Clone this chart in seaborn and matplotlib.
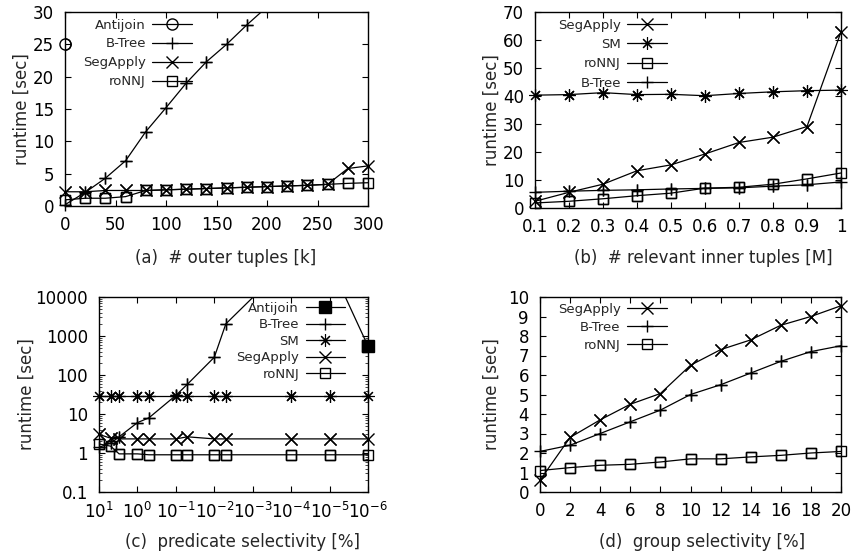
import numpy as np
import matplotlib
matplotlib.use("Agg")
import matplotlib.pyplot as plt
import matplotlib.ticker as mticker
import seaborn as sns

# (a) # outer tuples [k]
a_x = [0, 20, 40, 60, 80, 100, 120, 140, 160, 180, 200, 220, 240, 260, 280, 300]
a_antijoin_x = [0, 20]
a_antijoin = [25.0, 310.0]
a_btree_x = [0, 20, 40, 60, 80, 100, 120, 140, 160, 180, 200]
a_btree = [0.2, 2.1, 4.3, 7.0, 11.5, 15.2, 19.0, 22.3, 25.0, 28.0, 30.8]
a_segapply = [2.2, 2.2, 2.4, 2.4, 2.4, 2.5, 2.6, 2.7, 2.8, 2.9, 3.0, 3.1, 3.2, 3.35, 5.8, 6.2]
a_ronnj = [0.95, 1.2, 1.2, 1.45, 2.4, 2.5, 2.6, 2.7, 2.8, 2.9, 3.0, 3.1, 3.2, 3.35, 3.5, 3.6]

# (b) # relevant inner tuples [M]
b_x = [0.1, 0.2, 0.3, 0.4, 0.5, 0.6, 0.7, 0.8, 0.9, 1.0]
b_segapply = [2.4, 5.6, 8.5, 13.3, 15.4, 19.3, 23.4, 25.3, 29.1, 62.9]
b_sm = [40.3, 40.5, 41.2, 40.5, 40.6, 40.1, 40.9, 41.5, 41.9, 42.1]
b_ronnj = [1.8, 2.4, 3.3, 4.4, 5.3, 7.1, 7.4, 8.5, 10.4, 12.5]
b_btree = [5.6, 6.0, 6.3, 6.5, 6.8, 7.0, 7.2, 7.8, 8.3, 9.3]

# (c) predicate selectivity [%]
c_x = [10, 5, 3, 1, 0.5, 0.1, 0.05, 0.01, 0.005, 1e-4, 1e-5, 1e-6]
c_antijoin_x = [1e-5, 1e-6]
c_antijoin = [75000, 550]
c_btree_x = [10, 5, 3, 1, 0.5, 0.1, 0.05, 0.01, 0.005, 1e-4]
c_btree = [1.4, 1.8, 2.6, 6.0, 8.0, 30, 58, 285, 2050, 90000]
c_sm = [29, 29, 29, 29, 29, 29, 29, 29, 29, 29, 29, 29]
c_segapply = [3.0, 2.4, 2.3, 2.3, 2.3, 2.3, 2.6, 2.3, 2.3, 2.3, 2.3, 2.3]
c_ronnj = [1.7, 1.5, 0.95, 0.95, 0.9, 0.9, 0.9, 0.9, 0.9, 0.9, 0.9, 0.9]
c_ticks = [10, 1, 0.1, 0.01, 1e-3, 1e-4, 1e-5, 1e-6]
c_ticklabels = ["$10^{1}$", "$10^{0}$", "$10^{-1}$", "$10^{-2}$", "$10^{-3}$",
                "$10^{-4}$", "$10^{-5}$", "$10^{-6}$"]

# (d) group selectivity [%]
d_x = [0, 2, 4, 6, 8, 10, 12, 14, 16, 18, 20]
d_segapply = [0.6, 2.8, 3.7, 4.5, 5.05, 6.5, 7.3, 7.8, 8.55, 9.0, 9.55]
d_btree = [2.08, 2.4, 3.0, 3.6, 4.2, 5.0, 5.5, 6.1, 6.7, 7.2, 7.5]
d_ronnj = [1.1, 1.25, 1.37, 1.42, 1.54, 1.7, 1.7, 1.8, 1.88, 2.0, 2.08]

sns.set_style("ticks")
plt.rcParams["font.family"] = ["DejaVu Sans"]
plt.rcParams["mathtext.fontset"] = "dejavusans"
plt.rcParams["mathtext.default"] = "regular"

W, H = 857, 556
MARK = {
    "x": dict(marker="x", ms=8, mew=1),
    "+": dict(marker="+", ms=9, mew=1),
    "*": dict(marker=(8, 2, 0), ms=9, mew=0.8),
    "s": dict(marker="s", ms=7, mfc="none", mew=1),
    "o": dict(marker="o", ms=8, mfc="none", mew=1),
    "S": dict(marker="s", ms=8, mfc="k", mew=1),
}


def box(l, t, r, b):
    return [l / W, 1 - b / H, (r - l) / W, (b - t) / H]


def draw(ax, x, y, label, m, xlim, ylim):
    kw = MARK[m]
    sns.lineplot(x=x, y=y, ax=ax, color="k", lw=0.9, mec="k", label=label, **kw)
    # redraw in-range markers unclipped so the ones on the border show whole
    x, y = np.asarray(x, float), np.asarray(y, float)
    lo, hi = min(xlim), max(xlim)
    ok = (y >= ylim[0]) & (y <= ylim[1]) & (x >= lo) & (x <= hi)
    sns.lineplot(x=x[ok], y=y[ok], ax=ax, color="k", linestyle="none", mec="k",
                 clip_on=False, legend=False, **kw)


def style(ax, xlim, ylim, caption, cap_xy, ylab_x, leg_anchor, leg_loc, spacing):
    ax.set_xlim(*xlim)
    ax.set_ylim(*ylim)
    for s in ax.spines.values():
        s.set_linewidth(1.0)
        s.set_color("k")
        s.set_visible(True)
    ax.tick_params(direction="in", top=True, right=True, length=4, width=0.8,
                   labelsize=12, colors="k")
    ax.tick_params(axis="x", pad=7)
    ax.tick_params(axis="y", pad=8)
    ax.tick_params(which="minor", direction="in", length=2, width=0.6,
                   top=True, right=True)
    ax.set_xlabel(caption, fontsize=12)
    ax.xaxis.set_label_coords(*cap_xy)
    ax.set_ylabel("runtime [sec]", fontsize=12)
    ax.yaxis.set_label_coords(ylab_x, 0.5)
    h, l = ax.get_legend_handles_labels()
    ax.legend(h, l, loc=leg_loc, bbox_to_anchor=leg_anchor, frameon=False,
              markerfirst=False, handlelength=3.0, handletextpad=0.5,
              labelspacing=spacing, borderaxespad=0, borderpad=0.2, fontsize=9.5)


fig = plt.figure(figsize=(W / 100, H / 100), dpi=100)

# (a)
ax = fig.add_axes(box(65, 12, 368, 206))
xl, yl = (0, 300), (0, 30)
draw(ax, a_antijoin_x, a_antijoin, "Antijoin", "o", xl, yl)
draw(ax, a_btree_x, a_btree, "B-Tree", "+", xl, yl)
draw(ax, a_x, a_segapply, "SegApply", "x", xl, yl)
draw(ax, a_x, a_ronnj, "roNNJ", "s", xl, yl)
ax.set_xticks(range(0, 301, 50))
ax.set_yticks(range(0, 31, 5))
style(ax, xl, yl, "(a)  # outer tuples [k]", (0.53, -0.22), -0.112,
      (0.428, 0.98), "upper right", 0.45)

# (b)
ax = fig.add_axes(box(535, 12, 841, 208))
xl, yl = (0.1, 1.0), (0, 70)
draw(ax, b_x, b_segapply, "SegApply", "x", xl, yl)
draw(ax, b_x, b_sm, "SM", "*", xl, yl)
draw(ax, b_x, b_ronnj, "roNNJ", "s", xl, yl)
draw(ax, b_x, b_btree, "B-Tree", "+", xl, yl)
ax.set_xticks(b_x)
ax.xaxis.set_major_formatter(mticker.FuncFormatter(lambda v, p: f"{v:g}"))
ax.set_yticks(range(0, 71, 10))
style(ax, xl, yl, "(b)  # relevant inner tuples [M]", (0.549, -0.21), -0.111,
      (0.44, 0.98), "upper right", 0.48)

# (c)
ax = fig.add_axes(box(99, 297, 368, 492))
xl, yl = (10, 1e-6), (0.1, 10000)
ax.set_xscale("log")
ax.set_yscale("log")
draw(ax, c_antijoin_x, c_antijoin, "Antijoin", "S", xl, yl)
draw(ax, c_btree_x, c_btree, "B-Tree", "+", xl, yl)
draw(ax, c_x, c_sm, "SM", "*", xl, yl)
draw(ax, c_x, c_segapply, "SegApply", "x", xl, yl)
draw(ax, c_x, c_ronnj, "roNNJ", "s", xl, yl)
ax.set_xticks(c_ticks)
ax.set_xticklabels(c_ticklabels)
ax.xaxis.set_minor_locator(mticker.NullLocator())
ax.set_yticks([0.1, 1, 10, 100, 1000, 10000])
ax.yaxis.set_major_formatter(mticker.FuncFormatter(lambda v, p: f"{v:g}"))
style(ax, xl, yl, "(c)  predicate selectivity [%]", (0.532, -0.21), -0.234,
      (0.925, 0.99), "upper right", 0.27)

# (d)
ax = fig.add_axes(box(540, 297, 841, 492))
xl, yl = (0, 20), (0, 10)
draw(ax, d_x, d_segapply, "SegApply", "x", xl, yl)
draw(ax, d_x, d_btree, "B-Tree", "+", xl, yl)
draw(ax, d_x, d_ronnj, "roNNJ", "s", xl, yl)
ax.set_xticks(d_x)
ax.set_yticks(range(0, 11))
style(ax, xl, yl, "(d)  group selectivity [%]", (0.538, -0.21), -0.13,
      (0.43, 0.985), "upper right", 0.38)

fig.savefig("out.png", dpi=100)
